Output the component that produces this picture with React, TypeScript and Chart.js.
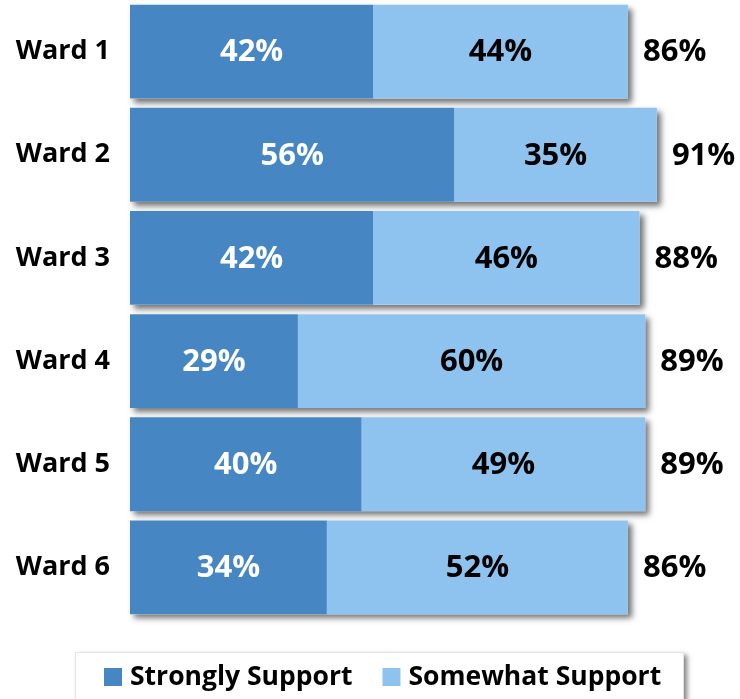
import React, { useEffect, useRef } from 'react';
import { Chart, registerables } from 'chart.js';

Chart.register(...registerables);

const categories = ['Ward 1', 'Ward 2', 'Ward 3', 'Ward 4', 'Ward 5', 'Ward 6'];
const stronglySupport = [42, 56, 42, 29, 40, 34];
const somewhatSupport = [44, 35, 46, 60, 49, 52];
const totals = [86, 91, 88, 89, 89, 86];
const seriesNames = ['Strongly Support', 'Somewhat Support'];
const seriesColors = ['#4686C3', '#8EC3F0'];
const labelColors = ['#FFFFFF', '#000000'];

const FONT = '"Open Sans", "DejaVu Sans", sans-serif';

const shadowPlugin = {
  id: 'barShadow',
  beforeDatasetsDraw(chart: any) {
    const { ctx } = chart;
    const m0 = chart.getDatasetMeta(0);
    const m1 = chart.getDatasetMeta(chart.data.datasets.length - 1);
    ctx.save();
    ctx.shadowColor = 'rgba(0,0,0,0.55)';
    ctx.shadowBlur = 6;
    ctx.shadowOffsetX = 4;
    ctx.shadowOffsetY = 4;
    ctx.fillStyle = '#ffffff';
    m0.data.forEach((el: any, i: number) => {
      const end = m1.data[i];
      const left = el.base;
      const right = end.x;
      const h = el.height;
      ctx.fillRect(left, el.y - h / 2, right - left, h);
    });
    ctx.restore();
  },
};

const labelPlugin = {
  id: 'valueLabels',
  afterDatasetsDraw(chart: any) {
    const { ctx } = chart;
    ctx.save();
    ctx.font = `bold 31px ${FONT}`;
    ctx.textBaseline = 'middle';
    chart.data.datasets.forEach((ds: any, di: number) => {
      const meta = chart.getDatasetMeta(di);
      meta.data.forEach((el: any, i: number) => {
        ctx.fillStyle = labelColors[di];
        ctx.textAlign = 'center';
        ctx.fillText(`${ds.data[i]}%`, (el.x + el.base) / 2, el.y + 1);
      });
    });
    const last = chart.getDatasetMeta(chart.data.datasets.length - 1);
    last.data.forEach((el: any, i: number) => {
      ctx.fillStyle = '#000000';
      ctx.textAlign = 'left';
      ctx.fillText(`${totals[i]}%`, el.x + 15, el.y + 1);
    });
    ctx.restore();
  },
};

const legendPlugin = {
  id: 'boxLegend',
  afterDraw(chart: any) {
    const { ctx } = chart;
    ctx.save();
    const boxL = 75;
    const boxT = 652;
    const boxR = 683;
    const boxB = 740;
    ctx.shadowColor = 'rgba(0,0,0,0.5)';
    ctx.shadowBlur = 5;
    ctx.shadowOffsetX = 4;
    ctx.shadowOffsetY = 3;
    ctx.fillStyle = '#ffffff';
    ctx.fillRect(boxL, boxT, boxR - boxL, boxB - boxT);
    ctx.shadowColor = 'transparent';
    ctx.strokeStyle = '#e4e4e4';
    ctx.lineWidth = 1;
    ctx.strokeRect(boxL + 0.5, boxT + 0.5, boxR - boxL, boxB - boxT);

    ctx.font = `bold 26.5px ${FONT}`;
    ctx.textBaseline = 'middle';
    ctx.textAlign = 'left';
    let x = 104;
    const cy = 677;
    chart.data.datasets.forEach((ds: any) => {
      ctx.fillStyle = ds.backgroundColor;
      ctx.fillRect(x, cy - 9, 18, 18);
      ctx.fillStyle = '#000000';
      ctx.fillText(ds.label, x + 26, cy);
      x += 26 + ctx.measureText(ds.label).width + 30;
    });
    ctx.restore();
  },
};

export default function App() {
  const ref = useRef<HTMLCanvasElement>(null);
  useEffect(() => {
    if (!ref.current) return;
    const chart = new Chart(ref.current, {
      type: 'bar',
      data: {
        labels: categories,
        datasets: [
          {
            label: seriesNames[0],
            data: stronglySupport,
            backgroundColor: seriesColors[0],
            barPercentage: 0.91,
            categoryPercentage: 1,
          },
          {
            label: seriesNames[1],
            data: somewhatSupport,
            backgroundColor: seriesColors[1],
            barPercentage: 0.91,
            categoryPercentage: 1,
          },
        ],
      },
      options: {
        indexAxis: 'y',
        responsive: false,
        animation: false,
        devicePixelRatio: 1,
        layout: { padding: { top: 0, right: 31, bottom: 80, left: 0 } },
        plugins: {
          legend: { display: false },
          tooltip: { enabled: false },
        },
        scales: {
          x: { stacked: true, min: 0, max: 100, display: false },
          y: {
            stacked: true,
            grid: { display: false, drawTicks: false },
            border: { display: false },
            ticks: {
              color: '#000000',
              padding: 20,
              font: { family: FONT, size: 27, weight: 'bold' },
            },
            afterFit(scale: any) {
              scale.width = 130;
              scale.paddingTop = 0;
              scale.paddingBottom = 0;
            },
          },
        },
      },
      plugins: [shadowPlugin, labelPlugin, legendPlugin],
    } as any);
    return () => chart.destroy();
  }, []);
  return (
    <div style={{ position: 'fixed', left: 0, top: 0, width: 740, height: 699, background: '#fff' }}>
      <canvas ref={ref} width={740} height={699} style={{ width: 740, height: 699, display: 'block' }} />
    </div>
  );
}
